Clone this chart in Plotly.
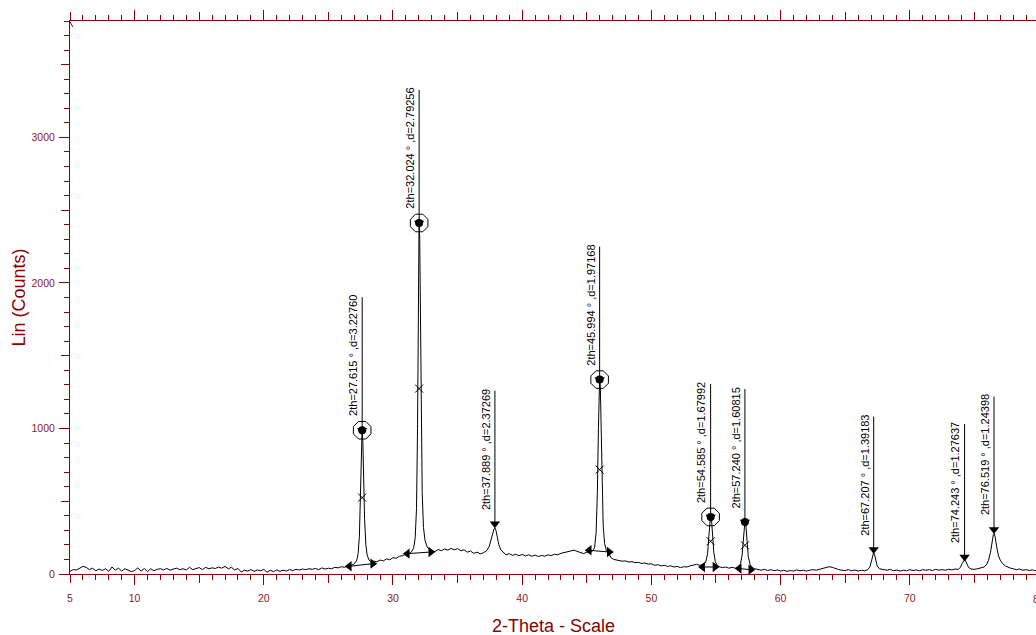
import plotly.graph_objects as go

# ---------------- data ----------------
two_theta = [
    5.00, 5.25, 5.50, 5.75, 6.00, 6.25, 6.50, 6.75, 7.00, 7.25, 7.50, 7.75, 8.00, 8.25, 8.50, 8.75,
    9.00, 9.25, 9.50, 9.75, 10.00, 10.25, 10.50, 10.75, 11.00, 11.25, 11.50, 11.75, 12.00, 12.25,
    12.50, 12.75, 13.00, 13.25, 13.50, 13.75, 14.00, 14.25, 14.50, 14.75, 15.00, 15.25, 15.50, 15.75,
    16.00, 16.25, 16.50, 16.75, 17.00, 17.25, 17.50, 17.75, 18.00, 18.25, 18.50, 18.75, 19.00, 19.25,
    19.50, 19.75, 20.00, 20.25, 20.50, 20.75, 21.00, 21.25, 21.50, 21.75, 22.00, 22.25, 22.50, 22.75,
    23.00, 23.25, 23.50, 23.75, 24.00, 24.25, 24.50, 24.75, 25.00, 25.25, 25.50, 25.75, 26.00, 26.25,
    26.50, 26.75, 27.00,
    27.20, 27.30, 27.40, 27.48, 27.55, 27.61, 27.67, 27.73, 27.80, 27.90, 28.00, 28.15,
    28.35, 28.50, 28.75, 29.00, 29.25, 29.50, 29.75, 30.00, 30.25, 30.50, 30.75, 31.00, 31.25, 31.45,
    31.60, 31.72, 31.82, 31.90, 31.96, 32.02, 32.07, 32.12, 32.18, 32.26, 32.36, 32.48, 32.65, 32.85,
    33.00, 33.25, 33.50, 33.75, 34.00, 34.25, 34.50, 34.75, 35.00, 35.25, 35.50, 35.75, 36.00, 36.25,
    36.50, 36.75, 37.00, 37.25,
    37.45, 37.60, 37.72, 37.82, 37.89, 37.97, 38.06, 38.18, 38.35, 38.55,
    38.75, 39.00, 39.25, 39.50, 39.75, 40.00, 40.25, 40.50, 40.75, 41.00, 41.25, 41.50, 41.75, 42.00,
    42.25, 42.50, 42.75, 43.00, 43.25, 43.50, 43.75, 44.00, 44.25, 44.50, 44.75, 45.00, 45.25, 45.45,
    45.60, 45.72, 45.82, 45.90, 45.96, 46.00, 46.05, 46.11, 46.18, 46.27, 46.38, 46.52, 46.70,
    46.90, 47.10, 47.30, 47.50, 47.75, 48.00, 48.25, 48.50, 48.75, 49.00, 49.25, 49.50, 49.75, 50.00,
    50.25, 50.50, 50.75, 51.00, 51.25, 51.50, 51.75, 52.00, 52.25, 52.50, 52.75, 53.00, 53.25, 53.50,
    53.75, 54.00,
    54.20, 54.35, 54.45, 54.53, 54.59, 54.65, 54.73, 54.83, 54.95, 55.10,
    55.30, 55.50, 55.75, 56.00, 56.25, 56.50, 56.70,
    56.90, 57.02, 57.12, 57.20, 57.25, 57.31, 57.40, 57.50, 57.65, 57.85,
    58.00, 58.25, 58.50, 58.75, 59.00, 59.25, 59.50, 59.75, 60.00, 60.25, 60.50, 60.75, 61.00, 61.25,
    61.50, 61.75, 62.00, 62.25, 62.50, 62.75, 63.00, 63.25, 63.50, 63.75, 64.00, 64.25, 64.50, 64.75,
    65.00, 65.25, 65.50, 65.75, 66.00, 66.25, 66.50, 66.75,
    66.92, 67.04, 67.13, 67.20, 67.27, 67.36, 67.48, 67.65, 67.85,
    68.00, 68.25, 68.50, 68.75, 69.00, 69.25, 69.50, 69.75, 70.00, 70.25, 70.50, 70.75, 71.00, 71.25,
    71.50, 71.75, 72.00, 72.25, 72.50, 72.75, 73.00, 73.25, 73.50, 73.75,
    73.92, 74.05, 74.15, 74.24, 74.32, 74.42, 74.55, 74.75,
    75.00, 75.25, 75.50, 75.75,
    75.95, 76.10, 76.25, 76.38, 76.47, 76.53, 76.61, 76.72, 76.85, 77.00, 77.20, 77.40, 77.60,
    77.80, 78.00, 78.25, 78.50, 78.75, 79.00, 79.25, 79.50, 79.75, 80.00,
]
counts = [
    18, 30, 28, 42, 52, 46, 30, 40, 22, 34, 24, 36, 18, 48, 26, 40,
    20, 36, 28, 16, 24, 42, 20, 38, 16, 36, 22, 32, 36, 28,
    38, 26, 34, 40, 30, 36, 28, 46, 30, 38, 44, 30, 46, 36,
    42, 38, 48, 40, 52, 36, 46, 28, 38, 14, 26, 20, 30, 18,
    28, 22, 32, 12, 26, 16, 28, 18, 26, 20, 30, 24, 32, 28,
    34, 30, 36, 32, 38, 30, 42, 34, 40, 36, 46, 42, 50, 46,
    56, 58, 70,
    95, 140, 260, 520, 820, 1000, 900, 650, 380, 200, 130, 95,
    80, 88, 84, 96, 90, 104, 98, 112, 108, 122, 126, 138, 142, 155,
    180, 250, 450, 1000, 1800, 2440, 2300, 1700, 1000, 560, 320, 230, 185, 165,
    160, 154, 168, 160, 172, 164, 176, 166, 174, 160, 166, 150, 158, 142,
    150, 138, 146, 160,
    190, 240, 285, 310, 316, 300, 260, 205, 165, 145,
    132, 140, 128, 136, 126, 134, 124, 132, 122, 130, 120, 128, 122, 132,
    126, 136, 132, 142, 146, 152, 158, 164, 156, 148, 140, 150, 146, 158,
    180, 280, 560, 1000, 1300, 1360, 1280, 1000, 620, 330, 210, 160, 140,
    110, 100, 96, 92, 88, 90, 82, 85, 78, 80, 72, 76, 68, 70,
    60, 64, 56, 60, 52, 56, 48, 52, 44, 50, 48, 56, 60, 66,
    60, 62,
    80, 140, 260, 370, 410, 380, 270, 150, 85, 58,
    48, 44, 48, 40, 46, 40, 48,
    70, 130, 250, 350, 372, 340, 230, 120, 62, 42,
    36, 30, 26, 32, 24, 30, 22, 28, 20, 26, 18, 24, 20, 28,
    22, 26, 20, 26, 30, 26, 32, 36, 44, 50, 46, 36, 30, 26,
    24, 30, 22, 28, 20, 26, 22, 30,
    50, 90, 135, 148, 135, 90, 55, 36, 30,
    30, 26, 32, 22, 28, 20, 26, 22, 30, 24, 28, 22, 30, 26,
    30, 24, 32, 26, 30, 26, 32, 28, 34, 32,
    45, 72, 92, 98, 90, 66, 45, 34,
    32, 36, 40, 48,
    65, 95, 150, 230, 272, 278, 255, 190, 130, 95, 70, 55, 46,
    40, 36, 30, 34, 26, 30, 24, 28, 22, 26,
]

# peak search results
peak_2th = [27.615, 32.024, 37.889, 45.994, 54.585, 57.240, 67.207, 74.243, 76.519]
peak_d = ["3.22760", "2.79256", "2.37269", "1.97168", "1.67992", "1.60815", "1.39183", "1.27637", "1.24398"]
peak_mark = [988, 2412, 346, 1336, 392, 357, 168, 117, 305]
peak_kind = ["circle", "circle", "arrow", "circle", "circle", "dot", "arrow", "arrow", "arrow"]

# peak-width construction (half height and base points)
fit_2th = [27.615, 32.024, 45.994, 54.585, 57.240]
half_counts = [525, 1274, 717, 225, 197]
base_left_2th = [26.62, 31.11, 45.19, 53.97, 56.80]
base_left_counts = [53, 140, 163, 48, 37]
base_right_2th = [28.43, 32.92, 46.74, 54.92, 57.69]
base_right_counts = [71, 151, 151, 48, 30]

x_ticks = [5, 10, 15, 20, 25, 30, 35, 40, 45, 50, 55, 60, 65, 70, 75, 80]
x_tick_text = ["5", "10", "", "20", "", "30", "", "40", "", "50", "", "60", "", "70", "", "80"]
x_major = [10, 20, 30, 40, 50, 60, 70, 80]
y_ticks = [0, 500, 1000, 1500, 2000, 2500, 3000, 3500]
y_tick_text = ["0", "", "1000", "", "2000", "", "3000", ""]
y_major = [0, 1000, 2000, 3000]

X_RANGE = [5, 79.77]
Y_RANGE = [0, 3800]

# ---------------- styling ----------------
AX = "#8B0000"
TXT = "#8B1A1A"
FONT = "Arial, Liberation Sans, sans-serif"

fig = go.Figure()

# pattern
fig.add_trace(go.Scatter(x=two_theta, y=counts, mode="lines",
                         line=dict(color="black", width=1), hoverinfo="skip"))

# base lines between the width points
bx, by = [], []
for i in range(len(fit_2th)):
    bx += [base_left_2th[i], base_right_2th[i], None]
    by += [base_left_counts[i], base_right_counts[i], None]
fig.add_trace(go.Scatter(x=bx, y=by, mode="lines", line=dict(color="black", width=1), hoverinfo="skip"))
fig.add_trace(go.Scatter(x=base_left_2th, y=base_left_counts, mode="markers",
                         marker=dict(symbol="triangle-left", size=9, color="black"), hoverinfo="skip"))
fig.add_trace(go.Scatter(x=base_right_2th, y=base_right_counts, mode="markers",
                         marker=dict(symbol="triangle-right", size=9, color="black"), hoverinfo="skip"))
fig.add_trace(go.Scatter(x=fit_2th, y=half_counts, mode="markers",
                         marker=dict(symbol="x-thin-open", size=8, color="black",
                                     line=dict(width=1, color="black")), hoverinfo="skip"))

# peak markers
circ_x = [t for t, k in zip(peak_2th, peak_kind) if k == "circle"]
circ_y = [m for m, k in zip(peak_mark, peak_kind) if k == "circle"]
dot_x = [t for t, k in zip(peak_2th, peak_kind) if k in ("circle", "dot")]
dot_y = [m for m, k in zip(peak_mark, peak_kind) if k in ("circle", "dot")]
fig.add_trace(go.Scatter(x=circ_x, y=circ_y, mode="markers",
                         marker=dict(symbol="octagon-open", size=19, color="black",
                                     line=dict(width=1, color="black")), hoverinfo="skip"))
fig.add_trace(go.Scatter(x=dot_x, y=dot_y, mode="markers",
                         marker=dict(symbol="circle", size=8, color="black"), hoverinfo="skip"))
fig.add_trace(go.Scatter(x=peak_2th, y=peak_mark, mode="markers",
                         marker=dict(symbol="triangle-down", size=9, color="black"), hoverinfo="skip"))

# dummy trace for the overlay axes (longer ticks)
fig.add_trace(go.Scatter(x=[None], y=[None], xaxis="x2", yaxis="y2", hoverinfo="skip"))

shapes = []
annotations = []
for t, d, m in zip(peak_2th, peak_d, peak_mark):
    shapes.append(dict(type="line", xref="x", yref="y", x0=t, x1=t,
                       ysizemode="pixel", yanchor=m, y0=0, y1=133,
                       line=dict(color="black", width=1)))
    annotations.append(dict(x=t, y=m, xref="x", yref="y", showarrow=False,
                            text=f"2th={t:.3f} ° ,d={d}", textangle=-90,
                            xanchor="right", yanchor="bottom", xshift=-1, yshift=12,
                            font=dict(family=FONT, size=11, color="black")))

# y-axis extension with arrow head at the top-left corner
shapes.append(dict(type="line", xref="x", yref="y", x0=X_RANGE[0], x1=X_RANGE[0],
                   ysizemode="pixel", yanchor=Y_RANGE[1], y0=0, y1=8,
                   line=dict(color=AX, width=1)))
shapes.append(dict(type="path", xref="x", yref="y", xsizemode="pixel", ysizemode="pixel",
                   xanchor=X_RANGE[0], yanchor=Y_RANGE[1], path="M-3,-6 L0,-1 L3,-6",
                   line=dict(color=AX, width=1)))

# last tick label (80) sits just past the visible window edge
last_tick = x_ticks[-1]
annotations.append(dict(text=x_tick_text[-1], xref="paper", yref="paper",
                        x=(last_tick - X_RANGE[0]) / (X_RANGE[1] - X_RANGE[0]), y=0,
                        yshift=-17, showarrow=False, xanchor="center", yanchor="top",
                        font=dict(family=FONT, size=10.5, color=TXT)))

annotations.append(dict(text="2-Theta - Scale", xref="paper", yref="paper", x=0.501, y=-0.094,
                        showarrow=False, xanchor="center", yanchor="middle",
                        font=dict(family=FONT, size=18, color=AX)))
annotations.append(dict(text="Lin (Counts)", xref="paper", yref="paper", x=-0.0538, y=0.5,
                        showarrow=False, textangle=-90, xanchor="center", yanchor="middle",
                        font=dict(family=FONT, size=18, color=AX)))

fig.update_layout(
    width=1036, height=635,
    margin=dict(l=70, r=0, t=21, b=61),
    paper_bgcolor="white", plot_bgcolor="white",
    showlegend=False,
    shapes=shapes, annotations=annotations,
    xaxis=dict(range=X_RANGE, tickmode="array", tickvals=x_ticks, ticktext=x_tick_text,
               ticks="outside", ticklen=8, tickwidth=1, tickcolor=AX,
               showline=True, linecolor=AX, linewidth=1, mirror="allticks",
               showgrid=False, zeroline=False, ticklabelstandoff=6,
               tickfont=dict(family=FONT, size=10.5, color=TXT),
               minor=dict(dtick=1, tick0=5, ticks="outside", ticklen=5, tickcolor=AX,
                          tickwidth=1, showgrid=False)),
    yaxis=dict(range=Y_RANGE, tickmode="array", tickvals=y_ticks, ticktext=y_tick_text,
               ticks="outside", ticklen=8, tickwidth=1, tickcolor=AX,
               showline=True, linecolor=AX, linewidth=1,
               showgrid=False, zeroline=False, ticklabelstandoff=4,
               tickfont=dict(family=FONT, size=10.5, color=TXT),
               minor=dict(dtick=100, tick0=0, ticks="outside", ticklen=5, tickcolor=AX,
                          tickwidth=1, showgrid=False)),
    xaxis2=dict(range=X_RANGE, overlaying="x", anchor="y2", side="bottom",
                tickmode="array", tickvals=x_major, ticks="outside", ticklen=10, tickwidth=1,
                tickcolor=AX, showticklabels=False, showline=True, linecolor=AX,
                mirror="allticks", showgrid=False, zeroline=False),
    yaxis2=dict(range=Y_RANGE, overlaying="y", anchor="x2", side="left",
                tickmode="array", tickvals=y_major, ticks="outside", ticklen=10, tickwidth=1,
                tickcolor=AX, showticklabels=False, showline=True, linecolor=AX,
                showgrid=False, zeroline=False),
)

fig.write_html("out.html", config={"displayModeBar": False},
               post_script="document.body.style.margin='0';document.body.style.overflow='hidden';")
